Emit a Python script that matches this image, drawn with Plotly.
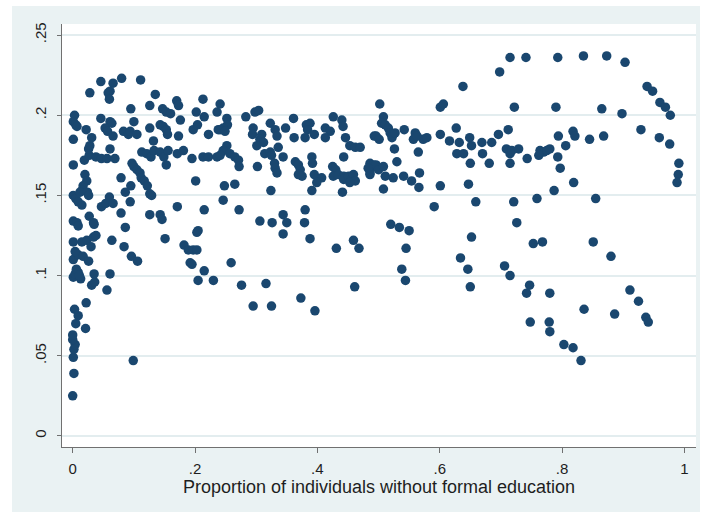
import plotly.graph_objects as go

# Share of individuals without formal education (x) against outcome (y)
x_vals = [
    # x < 0.04
    0.000, 0.002, 0.001, 0.002, 0.004, 0.000, 0.000, 0.005, 0.021, 0.009,
    0.003, 0.022, 0.031, 0.036, 0.035, 0.001, 0.009, 0.013, 0.004, 0.006,
    0.011, 0.001, 0.009, 0.017, 0.026, 0.004, 0.001, 0.015, 0.023, 0.034,
    0.038, 0.030, 0.001, 0.007, 0.009, 0.027, 0.034, 0.035, 0.001, 0.005,
    0.009, 0.015, 0.020, 0.023, 0.017, 0.015, 0.012, 0.024, 0.026, 0.001,
    0.019, 0.027, 0.026, 0.028, 0.031, 0.001, 0.022, 0.003, 0.001, 0.005,
    0.007, 0.038, 0.028,
    # 0.04 - 0.11
    0.046, 0.066, 0.061, 0.058, 0.060, 0.080, 0.111, 0.095, 0.046, 0.061,
    0.064, 0.053, 0.057, 0.066, 0.083, 0.091, 0.094, 0.100, 0.105, 0.047,
    0.056, 0.061, 0.069, 0.097, 0.100, 0.105, 0.079, 0.095, 0.086, 0.094,
    0.079, 0.086, 0.060, 0.047, 0.054, 0.066, 0.056, 0.061, 0.064, 0.084,
    0.096, 0.106, 0.099,
    # 0.11 - 0.28
    0.135, 0.126, 0.147, 0.153, 0.160, 0.170, 0.173, 0.213, 0.202, 0.236,
    0.241, 0.126, 0.132, 0.143, 0.148, 0.153, 0.155, 0.173, 0.176, 0.197,
    0.204, 0.215, 0.222, 0.238, 0.110, 0.112, 0.117, 0.122, 0.126, 0.129,
    0.113, 0.121, 0.128, 0.133, 0.143, 0.149, 0.153, 0.156, 0.171, 0.181,
    0.195, 0.213, 0.222, 0.236, 0.201, 0.171, 0.215, 0.205, 0.126, 0.143,
    0.146, 0.151, 0.182, 0.189, 0.197, 0.203, 0.192, 0.195, 0.215, 0.205,
    0.230, 0.203, 0.252, 0.253, 0.246, 0.241, 0.249, 0.252, 0.246, 0.241,
    0.257, 0.265, 0.271, 0.272, 0.248, 0.265, 0.246, 0.272, 0.259,
    # 0.28 - 0.50
    0.283, 0.298, 0.304, 0.295, 0.294, 0.309, 0.306, 0.312, 0.323, 0.331,
    0.334, 0.348, 0.362, 0.361, 0.382, 0.388, 0.384, 0.380, 0.395, 0.413,
    0.421, 0.413, 0.426, 0.440, 0.442, 0.446, 0.453, 0.462, 0.470, 0.493,
    0.301, 0.314, 0.323, 0.325, 0.336, 0.344, 0.302, 0.330, 0.331, 0.334,
    0.364, 0.369, 0.372, 0.369, 0.375, 0.391, 0.392, 0.395, 0.407, 0.399,
    0.391, 0.425, 0.430, 0.426, 0.434, 0.443, 0.443, 0.451, 0.456, 0.459,
    0.462, 0.453, 0.443, 0.441, 0.489, 0.486, 0.324, 0.306, 0.326, 0.344,
    0.350, 0.344, 0.380, 0.379, 0.388, 0.459, 0.431, 0.468, 0.276, 0.316,
    0.295, 0.325, 0.373, 0.396, 0.461,
    # 0.48 - 0.75
    0.502, 0.508, 0.505, 0.511, 0.516, 0.519, 0.524, 0.522, 0.527, 0.496,
    0.501, 0.542, 0.560, 0.557, 0.573, 0.579, 0.563, 0.526, 0.565, 0.530,
    0.486, 0.492, 0.496, 0.500, 0.508, 0.486, 0.511, 0.524, 0.541, 0.554,
    0.567, 0.566, 0.508, 0.483, 0.601, 0.601, 0.606, 0.627, 0.616, 0.632,
    0.628, 0.639, 0.649, 0.652, 0.650, 0.669, 0.670, 0.681, 0.685, 0.696,
    0.712, 0.709, 0.715, 0.718, 0.729, 0.715, 0.743, 0.601, 0.647, 0.591,
    0.659, 0.721, 0.726, 0.520, 0.534, 0.550, 0.652, 0.638, 0.698, 0.715,
    0.741, 0.722, 0.545, 0.538, 0.544, 0.634, 0.646, 0.650, 0.706, 0.715,
    0.747, 0.742, 0.748,
    # 0.75 - 1
    0.753, 0.768, 0.851, 0.880, 0.780, 0.779, 0.780, 0.803, 0.818, 0.831,
    0.836, 0.886, 0.911, 0.925, 0.937, 0.941, 0.793, 0.835, 0.873, 0.903,
    0.790, 0.865, 0.898, 0.939, 0.948, 0.960, 0.969, 0.977, 0.929, 0.959,
    0.976, 0.991, 0.990, 0.988, 0.818, 0.821, 0.794, 0.806, 0.845, 0.868,
    0.764, 0.770, 0.775, 0.780, 0.762, 0.793, 0.797, 0.819, 0.787, 0.759,
    0.855,
]

y_vals = [
    # x < 0.04
    0.025, 0.039, 0.049, 0.054, 0.057, 0.060, 0.063, 0.070, 0.067, 0.075,
    0.079, 0.083, 0.094, 0.096, 0.101, 0.099, 0.102, 0.098, 0.101, 0.104,
    0.100, 0.110, 0.113, 0.112, 0.109, 0.115, 0.121, 0.121, 0.122, 0.124,
    0.125, 0.118, 0.134, 0.133, 0.131, 0.137, 0.133, 0.132, 0.150, 0.148,
    0.146, 0.144, 0.163, 0.159, 0.156, 0.153, 0.152, 0.152, 0.150, 0.169,
    0.172, 0.175, 0.179, 0.181, 0.186, 0.185, 0.191, 0.200, 0.196, 0.194,
    0.193, 0.174, 0.214,
    # 0.04 - 0.11
    0.221, 0.220, 0.215, 0.214, 0.210, 0.223, 0.222, 0.204, 0.198, 0.196,
    0.195, 0.192, 0.190, 0.187, 0.190, 0.188, 0.190, 0.196, 0.188, 0.173,
    0.173, 0.179, 0.173, 0.170, 0.168, 0.166, 0.161, 0.156, 0.152, 0.146,
    0.139, 0.130, 0.149, 0.143, 0.145, 0.145, 0.091, 0.101, 0.122, 0.118,
    0.112, 0.109, 0.047,
    # 0.11 - 0.28
    0.213, 0.206, 0.204, 0.202, 0.201, 0.209, 0.206, 0.210, 0.202, 0.202,
    0.207, 0.192, 0.184, 0.194, 0.193, 0.191, 0.188, 0.187, 0.197, 0.191,
    0.194, 0.199, 0.188, 0.191, 0.164, 0.161, 0.159, 0.156, 0.151, 0.150,
    0.177, 0.176, 0.174, 0.178, 0.177, 0.174, 0.169, 0.178, 0.176, 0.178,
    0.173, 0.174, 0.174, 0.174, 0.159, 0.143, 0.141, 0.128, 0.138, 0.138,
    0.135, 0.123, 0.119, 0.116, 0.116, 0.116, 0.108, 0.107, 0.103, 0.097,
    0.097, 0.127, 0.198, 0.194, 0.192, 0.191, 0.190, 0.181, 0.178, 0.175,
    0.176, 0.174, 0.172, 0.168, 0.156, 0.157, 0.147, 0.141, 0.108,
    # 0.28 - 0.50
    0.199, 0.202, 0.203, 0.192, 0.188, 0.188, 0.185, 0.183, 0.195, 0.191,
    0.187, 0.192, 0.186, 0.198, 0.194, 0.195, 0.191, 0.186, 0.188, 0.192,
    0.190, 0.186, 0.199, 0.197, 0.193, 0.186, 0.181, 0.180, 0.180, 0.187,
    0.181, 0.176, 0.177, 0.175, 0.180, 0.174, 0.168, 0.170, 0.167, 0.164,
    0.171, 0.169, 0.166, 0.163, 0.162, 0.174, 0.170, 0.163, 0.161, 0.158,
    0.153, 0.168, 0.166, 0.162, 0.163, 0.162, 0.160, 0.162, 0.160, 0.163,
    0.159, 0.158, 0.174, 0.152, 0.168, 0.164, 0.153, 0.134, 0.133, 0.138,
    0.133, 0.126, 0.141, 0.133, 0.123, 0.122, 0.117, 0.117, 0.094, 0.095,
    0.081, 0.081, 0.086, 0.078, 0.093,
    # 0.48 - 0.75
    0.207, 0.199, 0.195, 0.194, 0.192, 0.189, 0.188, 0.186, 0.189, 0.187,
    0.185, 0.191, 0.189, 0.185, 0.185, 0.186, 0.187, 0.179, 0.177, 0.171,
    0.170, 0.169, 0.169, 0.166, 0.168, 0.163, 0.162, 0.161, 0.162, 0.159,
    0.164, 0.155, 0.154, 0.167, 0.188, 0.205, 0.207, 0.192, 0.184, 0.183,
    0.176, 0.176, 0.186, 0.181, 0.170, 0.183, 0.176, 0.170, 0.183, 0.188,
    0.191, 0.179, 0.176, 0.178, 0.179, 0.170, 0.173, 0.156, 0.157, 0.143,
    0.146, 0.146, 0.133, 0.132, 0.130, 0.128, 0.124, 0.218, 0.227, 0.236,
    0.236, 0.205, 0.117, 0.104, 0.097, 0.111, 0.104, 0.093, 0.106, 0.100,
    0.094, 0.089, 0.071,
    # 0.75 - 1
    0.120, 0.121, 0.121, 0.112, 0.089, 0.071, 0.065, 0.057, 0.055, 0.047,
    0.079, 0.076, 0.091, 0.084, 0.074, 0.071, 0.236, 0.237, 0.237, 0.233,
    0.205, 0.204, 0.201, 0.218, 0.215, 0.208, 0.205, 0.200, 0.191, 0.186,
    0.182, 0.170, 0.163, 0.158, 0.190, 0.187, 0.187, 0.181, 0.185, 0.187,
    0.178, 0.177, 0.178, 0.179, 0.175, 0.174, 0.167, 0.158, 0.153, 0.148,
    0.148,
]

x_ticks = [0, 0.2, 0.4, 0.6, 0.8, 1]
x_tick_text = ["0", ".2", ".4", ".6", ".8", "1"]
y_ticks = [0, 0.05, 0.1, 0.15, 0.2, 0.25]
y_tick_text = ["0", ".05", ".1", ".15", ".2", ".25"]
x_title = "Proportion of individuals without formal education"

NAVY = "#1a476f"
REGION = "#eaf2f3"
AXIS = "#707070"
TEXT = "#1e1e1e"
FONT = "Liberation Sans, Arial, sans-serif"

fig = go.Figure()
fig.add_trace(go.Scatter(
    x=x_vals, y=y_vals, mode="markers",
    marker=dict(size=9.5, color=NAVY, line=dict(width=0)),
    hoverinfo="skip", showlegend=False,
))

L, R, T, B = 62, 5, 24, 65
W, H = 701, 512
pw, ph = W - L - R, H - T - B

# light graph region surrounding the white plot area
fig.add_shape(
    type="rect", xref="paper", yref="paper", layer="below",
    x0=(12 - L) / pw, x1=(700 - L) / pw,
    y0=(H - 512 - B) / ph, y1=(H - 6 - B) / ph,
    fillcolor=REGION, line=dict(width=0),
)
fig.add_shape(
    type="rect", xref="paper", yref="paper", layer="below",
    x0=0, x1=1, y0=0, y1=1,
    fillcolor="white", line=dict(width=0),
)

fig.update_layout(
    width=W, height=H,
    margin=dict(l=L, r=R, t=T, b=B, pad=0),
    paper_bgcolor="white", plot_bgcolor="rgba(0,0,0,0)",
    font=dict(family=FONT, size=15, color=TEXT),
    xaxis=dict(
        range=[-0.0175, 1.019], tickvals=x_ticks, ticktext=x_tick_text,
        showgrid=False, zeroline=False, showline=True, linecolor=AXIS,
        linewidth=1, ticks="outside", ticklen=5, tickcolor=AXIS,
        ticklabelstandoff=3,
        tickfont=dict(size=15, color=TEXT),
        title=dict(text=x_title, font=dict(size=18, color=TEXT),
                   standoff=1),
    ),
    yaxis=dict(
        range=[-0.0069, 0.2569], tickvals=y_ticks, ticktext=y_tick_text,
        tickangle=-90, showgrid=True, gridcolor="#e3edef", gridwidth=1.5,
        zeroline=False, showline=True, linecolor=AXIS, linewidth=1,
        ticks="outside", ticklen=4, tickcolor=AXIS,
        ticklabelstandoff=5,
        tickfont=dict(size=15, color=TEXT),
    ),
)

fig.write_html("out.html")
